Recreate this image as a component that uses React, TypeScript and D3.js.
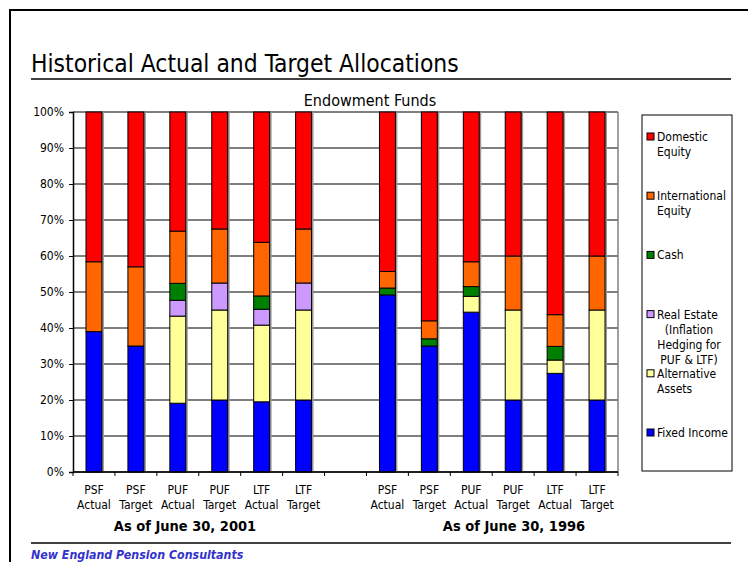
import { useEffect, useRef } from "react";
import * as d3 from "d3";

// x categories (two-line labels), slot 6 is the gap between the two dates
const fundNames = ["PSF", "PSF", "PUF", "PUF", "LTF", "LTF", "", "PSF", "PSF", "PUF", "PUF", "LTF", "LTF"];
const kindNames = ["Actual", "Target", "Actual", "Target", "Actual", "Target", "", "Actual", "Target", "Actual", "Target", "Actual", "Target"];

// allocation shares in %, stacked bottom-up
const fixedIncome = [39, 35, 19.1, 20, 19.5, 20, 0, 49.2, 35, 44.4, 20, 27.4, 20];
const alternativeAssets = [0, 0, 24.2, 25, 21.3, 25, 0, 0, 0, 4.4, 25, 3.7, 25];
const realEstate = [0, 0, 4.4, 7.5, 4.4, 7.5, 0, 0, 0, 0, 0, 0, 0];
const cash = [0, 0, 4.7, 0, 3.7, 0, 0, 1.9, 2, 2.7, 0, 3.8, 0];
const internationalEquity = [19.4, 22, 14.5, 15, 14.9, 15, 0, 4.6, 5, 6.9, 15, 8.8, 15];
const domesticEquity = [41.6, 43, 33.1, 32.5, 36.2, 32.5, 0, 44.3, 58, 41.6, 40, 56.3, 40];

const yTicks = [0, 10, 20, 30, 40, 50, 60, 70, 80, 90, 100];

const series = [
  { key: "fixed", values: fixedIncome, color: "#0000ff", label: ["Fixed Income"] },
  { key: "alt", values: alternativeAssets, color: "#ffff99", label: ["Alternative", "Assets"] },
  { key: "re", values: realEstate, color: "#cc99ff", label: ["Real Estate", "(Inflation", "Hedging for", "PUF & LTF)"] },
  { key: "cash", values: cash, color: "#008000", label: ["Cash"] },
  { key: "intl", values: internationalEquity, color: "#ff6600", label: ["International", "Equity"] },
  { key: "dom", values: domesticEquity, color: "#ff0000", label: ["Domestic", "Equity"] },
];

const FONT = "'DejaVu Sans Condensed', 'DejaVu Sans', sans-serif";

export default function App() {
  const svgRef = useRef<SVGSVGElement>(null);

  useEffect(() => {
    const svg = d3.select(svgRef.current);
    svg.selectAll("*").remove();
    svg.attr("font-family", FONT);

    const plot = { left: 73, right: 618, top: 112, bottom: 472 };

    // page frame
    svg.append("path")
      .attr("d", "M10,562 V10 H748")
      .attr("fill", "none")
      .attr("stroke", "#000")
      .attr("stroke-width", 2);

    svg.append("text")
      .attr("x", 31).attr("y", 72)
      .attr("font-size", 24.4)
      .attr("fill", "#000")
      .text("Historical Actual and Target Allocations");

    svg.append("line")
      .attr("x1", 31).attr("x2", 731).attr("y1", 79).attr("y2", 79)
      .attr("stroke", "#000").attr("stroke-width", 1.5);

    svg.append("text")
      .attr("x", 370).attr("y", 106)
      .attr("text-anchor", "middle")
      .attr("font-size", 16)
      .text("Endowment Funds");

    const idx = fundNames.map((_, i) => i);
    const x = d3.scaleBand<number>()
      .domain(idx)
      .range([plot.left, plot.right])
      .paddingInner(0.62)
      .paddingOuter(0.31);

    const y = d3.scaleLinear().domain([0, 100]).range([plot.bottom, plot.top]);

    // gridlines
    svg.append("g")
      .selectAll("line")
      .data(yTicks)
      .join("line")
      .attr("x1", plot.left).attr("x2", plot.right)
      .attr("y1", (d) => y(d)).attr("y2", (d) => y(d))
      .attr("stroke", "#000").attr("stroke-width", 1);

    svg.append("line")
      .attr("x1", plot.right).attr("x2", plot.right)
      .attr("y1", plot.top).attr("y2", plot.bottom)
      .attr("stroke", "#808080").attr("stroke-width", 1.5);

    // y axis
    const yAxis = svg.append("g")
      .attr("transform", `translate(${plot.left},0)`)
      .call(d3.axisLeft(y).tickValues(yTicks).tickSize(4).tickPadding(5).tickFormat((d) => `${d}%`));
    yAxis.select(".domain").attr("stroke", "#000").attr("stroke-width", 1.5);
    yAxis.selectAll("text").attr("font-size", 12).attr("font-family", FONT).attr("fill", "#000");

    // stacked bars
    const table = idx.map((i) => {
      const row: Record<string, number> = { i };
      series.forEach((s) => (row[s.key] = s.values[i]));
      return row;
    });
    const stacked = d3.stack<Record<string, number>>().keys(series.map((s) => s.key))(table);
    const bw = x.bandwidth();

    stacked.forEach((layer, li) => {
      const g = svg.append("g");
      const segs = layer.filter((d) => d[1] - d[0] > 0);
      // slight gray shadow on the right side of each segment
      g.selectAll("rect.shadow")
        .data(segs)
        .join("rect")
        .attr("class", "shadow")
        .attr("x", (d) => (x(d.data.i) as number) + 2)
        .attr("y", (d) => y(d[1]))
        .attr("width", bw)
        .attr("height", (d) => y(d[0]) - y(d[1]))
        .attr("fill", "#9a9a9a");
      g.selectAll("rect.seg")
        .data(segs)
        .join("rect")
        .attr("class", "seg")
        .attr("x", (d) => x(d.data.i) as number)
        .attr("y", (d) => y(d[1]))
        .attr("width", bw)
        .attr("height", (d) => y(d[0]) - y(d[1]))
        .attr("fill", series[li].color)
        .attr("stroke", "#000")
        .attr("stroke-width", 1);
    });

    // x axis line + ticks between categories
    svg.append("line")
      .attr("x1", plot.left).attr("x2", plot.right)
      .attr("y1", plot.bottom).attr("y2", plot.bottom)
      .attr("stroke", "#000").attr("stroke-width", 1.5);
    const step = x.step();
    const boundaries = d3.range(fundNames.length + 1).map((k) => plot.left + k * step);
    svg.append("g")
      .selectAll("line")
      .data(boundaries)
      .join("line")
      .attr("x1", (d) => d).attr("x2", (d) => d)
      .attr("y1", plot.bottom).attr("y2", plot.bottom + 4)
      .attr("stroke", "#000");

    const xl = svg.append("g").attr("font-size", 12).attr("text-anchor", "middle");
    xl.selectAll("text.f")
      .data(idx)
      .join("text")
      .attr("class", "f")
      .attr("x", (i) => (x(i) as number) + bw / 2)
      .attr("y", 494)
      .text((i) => fundNames[i]);
    xl.selectAll("text.k")
      .data(idx)
      .join("text")
      .attr("class", "k")
      .attr("x", (i) => (x(i) as number) + bw / 2)
      .attr("y", 509)
      .text((i) => kindNames[i]);

    svg.append("text")
      .attr("x", 185).attr("y", 531)
      .attr("text-anchor", "middle").attr("font-size", 14.5).attr("font-weight", "bold")
      .text("As of June 30, 2001");
    svg.append("text")
      .attr("x", 514).attr("y", 531)
      .attr("text-anchor", "middle").attr("font-size", 14.5).attr("font-weight", "bold")
      .text("As of June 30, 1996");

    // legend
    svg.append("rect")
      .attr("x", 642).attr("y", 115).attr("width", 90).attr("height", 356)
      .attr("fill", "#fff").attr("stroke", "#000").attr("stroke-width", 1);
    const legendItems = [...series].reverse();
    legendItems.forEach((s, k) => {
      const cy = 137 + k * 59.2;
      svg.append("rect")
        .attr("x", 647).attr("y", cy - 4).attr("width", 7).attr("height", 7)
        .attr("fill", s.color).attr("stroke", "#000").attr("stroke-width", 1);
      s.label.forEach((line, j) => {
        const centered = s.key === "re" && j > 0;
        svg.append("text")
          .attr("x", centered ? 689 : 657)
          .attr("y", cy + 4 + j * 15)
          .attr("text-anchor", centered ? "middle" : "start")
          .attr("font-size", 12)
          .text(line);
      });
    });

    // footer
    svg.append("line")
      .attr("x1", 31).attr("x2", 731).attr("y1", 543).attr("y2", 543)
      .attr("stroke", "#000").attr("stroke-width", 1.5);
    svg.append("text")
      .attr("x", 31).attr("y", 559)
      .attr("font-size", 12.3).attr("font-weight", "bold").attr("font-style", "italic")
      .attr("fill", "#3333cc")
      .text("New England Pension Consultants");
  }, []);

  return (
    <div style={{ position: "absolute", left: 0, top: 0 }}>
      <svg ref={svgRef} width={748} height={562} style={{ display: "block", background: "#fff" }}></svg>
    </div>
  );
}
